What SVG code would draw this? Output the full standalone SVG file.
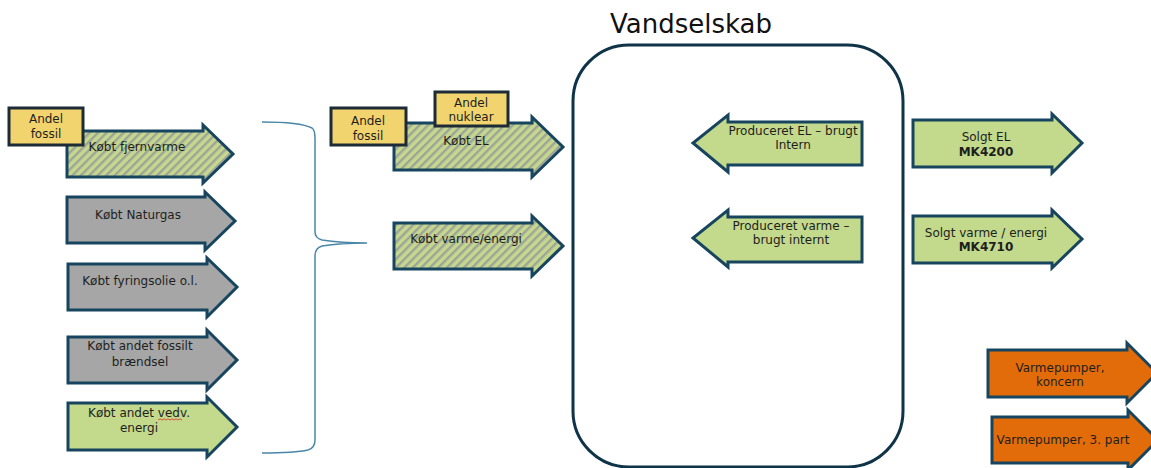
<svg xmlns="http://www.w3.org/2000/svg" width="1151" height="468" viewBox="0 0 1151 468">
<defs>
<pattern id="stripes" patternUnits="userSpaceOnUse" width="6" height="6" patternTransform="rotate(45)">
<rect x="0" y="0" width="6" height="6" fill="#c4d98c"/>
<rect x="0" y="0" width="2.4" height="6" fill="#a0a39a"/>
</pattern>
<style>
.arr{stroke:#17455f;stroke-width:3;stroke-linejoin:miter}
.hatch{fill:url(#stripes)}
.gray{fill:#a6a6a6}
.green{fill:#c3d98b}
.orange{fill:#e36c0a}
.box{fill:#f2d46f;stroke:#1c2b36;stroke-width:3}
text{font-family:"DejaVu Sans","Liberation Sans",sans-serif;font-size:12px;fill:#1e1e1e;text-anchor:middle}
.b{font-weight:bold}
.title{font-size:26px;fill:#111}
.brace{fill:none;stroke:#4a86a8;stroke-width:1.5}
.frame{fill:#fff;stroke:#0f3347;stroke-width:3}
</style>
</defs>
<rect width="1151" height="468" fill="#fff"/>

<g id="vandselskab">
<rect class="frame" x="573" y="45" width="330" height="422" rx="56" ry="56"/>
<text class="title" x="691" y="33">Vandselskab</text>
</g>

<g id="connectors">
<path class="brace" d="M262,122 Q300,122 312,128 Q315,130 315,138 L315,232 Q315,238 322,240 Q340,243 367,243 Q340,243 322,246 Q315,248 315,256 L315,440 Q315,448 308,450 Q295,453 262,453"/>
</g>

<g id="koebt-fjernvarme">
<polygon class="arr hatch" points="67,131 203,131 203,125 233,154 203,183 203,177 67,177"/>
<text x="137" y="151">Købt fjernvarme</text>
</g>
<g id="andel-fossil-1">
<rect class="box" x="9" y="108" width="74" height="37"/>
<text x="46" y="123">Andel</text>
<text x="46" y="138">fossil</text>
</g>

<g id="koebt-naturgas">
<polygon class="arr gray" points="67,197 205,197 205,192 235,221 205,250 205,243 67,243"/>
<text x="138" y="219">Købt Naturgas</text>
</g>

<g id="koebt-fyringsolie">
<polygon class="arr gray" points="68,264 207,264 207,258 237,287 207,317 207,310 68,310"/>
<text x="140" y="285">Købt fyringsolie o.l.</text>
</g>

<g id="koebt-andet-fossilt">
<polygon class="arr gray" points="68,337 207,337 207,330 237,360 207,390 207,383 68,383"/>
<text x="140" y="350">Købt andet fossilt</text>
<text x="140" y="366">brændsel</text>
</g>

<g id="koebt-andet-vedv">
<polygon class="arr green" points="68,403 207,403 207,397 237,427 207,457 207,450 68,450"/>
<text x="139" y="417">Købt andet vedv.</text>
<text x="139" y="432">energi</text>
<path d="M158,420 l2,-1.2 l2,1.2 l2,-1.2 l2,1.2 l2,-1.2 l2,1.2 l2,-1.2 l2,1.2 l2,-1.2 l2,1.2 l2,-1.2 l2,1.2" fill="none" stroke="#e03030" stroke-width="0.8"/>
</g>

<g id="koebt-el">
<polygon class="arr hatch" points="394,123 532,123 532,117 563,147 532,177 532,170 394,170"/>
<text x="466" y="145">Købt EL</text>
</g>
<g id="andel-fossil-2">
<rect class="box" x="331" y="108" width="75" height="37"/>
<text x="368" y="125">Andel</text>
<text x="368" y="140">fossil</text>
</g>
<g id="andel-nuklear">
<rect class="box" x="435" y="92" width="73" height="34"/>
<text x="471" y="107">Andel</text>
<text x="471" y="121">nuklear</text>
</g>

<g id="koebt-varme">
<polygon class="arr hatch" points="394,223 532,223 532,216 563,246 532,276 532,269 394,269"/>
<text x="466" y="243">Købt varme/energi</text>
</g>

<g id="produceret-el">
<polygon class="arr green" points="862,122 728,122 728,115 693,143 728,172 728,165 862,165"/>
<text x="793" y="135">Produceret EL – brugt</text>
<text x="793" y="149">Intern</text>
</g>

<g id="produceret-varme">
<polygon class="arr green" points="862,217 728,217 728,210 693,238 728,267 728,262 862,262"/>
<text x="791" y="230">Produceret varme –</text>
<text x="791" y="244">brugt internt</text>
</g>

<g id="solgt-el">
<polygon class="arr green" points="913,120 1052,120 1052,114 1082,143 1052,173 1052,167 913,167"/>
<text x="986" y="141">Solgt EL</text>
<text class="b" x="986" y="156">MK4200</text>
</g>

<g id="solgt-varme">
<polygon class="arr green" points="913,216 1052,216 1052,210 1082,239 1052,268 1052,263 913,263"/>
<text x="986" y="237">Solgt varme / energi</text>
<text class="b" x="986" y="251">MK4710</text>
</g>

<g id="varmepumper-koncern">
<polygon class="arr orange" points="988,350 1127,350 1127,343 1157,373 1127,403 1127,397 988,397"/>
<text x="1060" y="372">Varmepumper,</text>
<text x="1060" y="386">koncern</text>
</g>

<g id="varmepumper-3part">
<polygon class="arr orange" points="992,417 1128,417 1128,410 1158,440 1128,470 1128,463 992,463"/>
<text x="1063" y="444">Varmepumper, 3. part</text>
</g>
</svg>
